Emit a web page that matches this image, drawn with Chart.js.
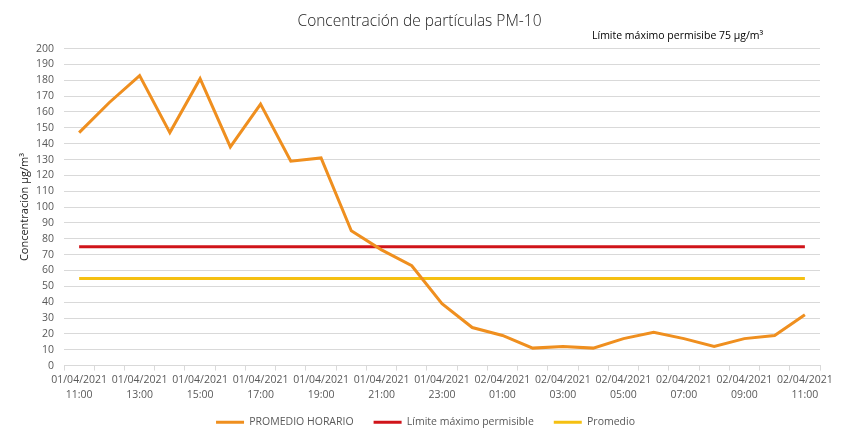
<!DOCTYPE html>
<html><head><meta charset="utf-8">
<script src="https://cdn.jsdelivr.net/npm/chart.js@4"></script>
<style>html,body{margin:0;padding:0;background:#fff}#wrap{width:847px;height:442px}</style>
</head><body><div id="wrap"><canvas id="c"></canvas></div>
<script>
const categories = ["01/04/2021 11:00","01/04/2021 12:00","01/04/2021 13:00","01/04/2021 14:00","01/04/2021 15:00","01/04/2021 16:00","01/04/2021 17:00","01/04/2021 18:00","01/04/2021 19:00","01/04/2021 20:00","01/04/2021 21:00","01/04/2021 22:00","01/04/2021 23:00","02/04/2021 00:00","02/04/2021 01:00","02/04/2021 02:00","02/04/2021 03:00","02/04/2021 04:00","02/04/2021 05:00","02/04/2021 06:00","02/04/2021 07:00","02/04/2021 08:00","02/04/2021 09:00","02/04/2021 10:00","02/04/2021 11:00"];
const promedioHorario = [147,166,183,147,181,138,165,129,131,85,73,63,39,24,19,11,12,11,17,21,17,12,17,19,32];
const limiteMaximo = [75,75,75,75,75,75,75,75,75,75,75,75,75,75,75,75,75,75,75,75,75,75,75,75,75];
const promedio = [55,55,55,55,55,55,55,55,55,55,55,55,55,55,55,55,55,55,55,55,55,55,55,55,55];
const yTicks = {min:0,max:200,step:10};
const titleText = "Concentración de partículas PM-10";
const noteText = "Límite máximo permisibe 75 µg/m³";
const yTitle = "Concentración µg/m³";

const notePlugin = {
  id:'note',
  afterInit(chart){
    const lg = chart.legend;
    if(!lg) return;
    const origFit = lg.fit.bind(lg);
    lg.fit = function(){ origFit(); this.height = 37; };
    const origDraw = lg.draw.bind(lg);
    lg.draw = function(){ const c=chart.ctx; c.save(); c.translate(6,-8); origDraw(); c.restore(); };
  },
  afterDraw(chart){
    const ctx = chart.ctx;
    ctx.save();
    ctx.font = '10.5px "Open Sans"';
    ctx.fillStyle = '#000';
    ctx.textAlign = 'left';
    ctx.textBaseline = 'middle';
    ctx.fillText(noteText, 592, 36);
    ctx.restore();
  }
};

new Chart(document.getElementById('c'), {
  type:'line',
  data:{
    labels: categories,
    datasets:[
      {label:'PROMEDIO HORARIO', data:promedioHorario, borderColor:'#EF8F1F', backgroundColor:'#EF8F1F', borderWidth:3, pointRadius:0, tension:0},
      {label:'Límite máximo permisible', data:limiteMaximo, borderColor:'#D0141A', backgroundColor:'#D0141A', borderWidth:3, pointRadius:0},
      {label:'Promedio', data:promedio, borderColor:'#F5C012', backgroundColor:'#F5C012', borderWidth:3, pointRadius:0}
    ]
  },
  options:{
    responsive:true, maintainAspectRatio:false, animation:false,
    devicePixelRatio:1,
    layout:{padding:{left:19,right:27,top:4,bottom:0}},
    plugins:{
      title:{display:true, text:titleText, color:'#222', font:{family:'"Open Sans"', size:15.5, weight:'300'}, padding:{top:8,bottom:18}},
      legend:{position:'bottom', labels:{usePointStyle:true, pointStyle:'line', pointStyleWidth:28, boxHeight:3, color:'#595959', font:{family:'"Open Sans"', size:10.5}, padding:20}},
      tooltip:{enabled:false}
    },
    scales:{
      x:{
        offset:true,
        grid:{display:true, drawOnChartArea:false, drawTicks:true, offset:true, tickLength:5, color:'#d9d9d9'},
        border:{color:'#d9d9d9'},
        ticks:{autoSkip:false, maxRotation:0, minRotation:0, color:'#595959', font:{family:'"Open Sans"', size:10.5, lineHeight:1.45}, padding:2,
          callback:function(v,i){ if(i%2!==0) return ''; const s=categories[i].split(' '); return [s[0], s[1]]; }}
      },
      y:{
        min:yTicks.min, max:yTicks.max,
        ticks:{stepSize:yTicks.step, autoSkip:false, color:'#595959', font:{family:'"Open Sans"', size:10.5}, padding:10},
        grid:{color:'#d9d9d9', drawTicks:false},
        border:{display:false},
        title:{display:true, text:yTitle, color:'#222', font:{family:'"Open Sans"', size:11, lineHeight:1}, padding:{top:0,bottom:-4}}
      }
    }
  },
  plugins:[notePlugin]
});
</script></body></html>
